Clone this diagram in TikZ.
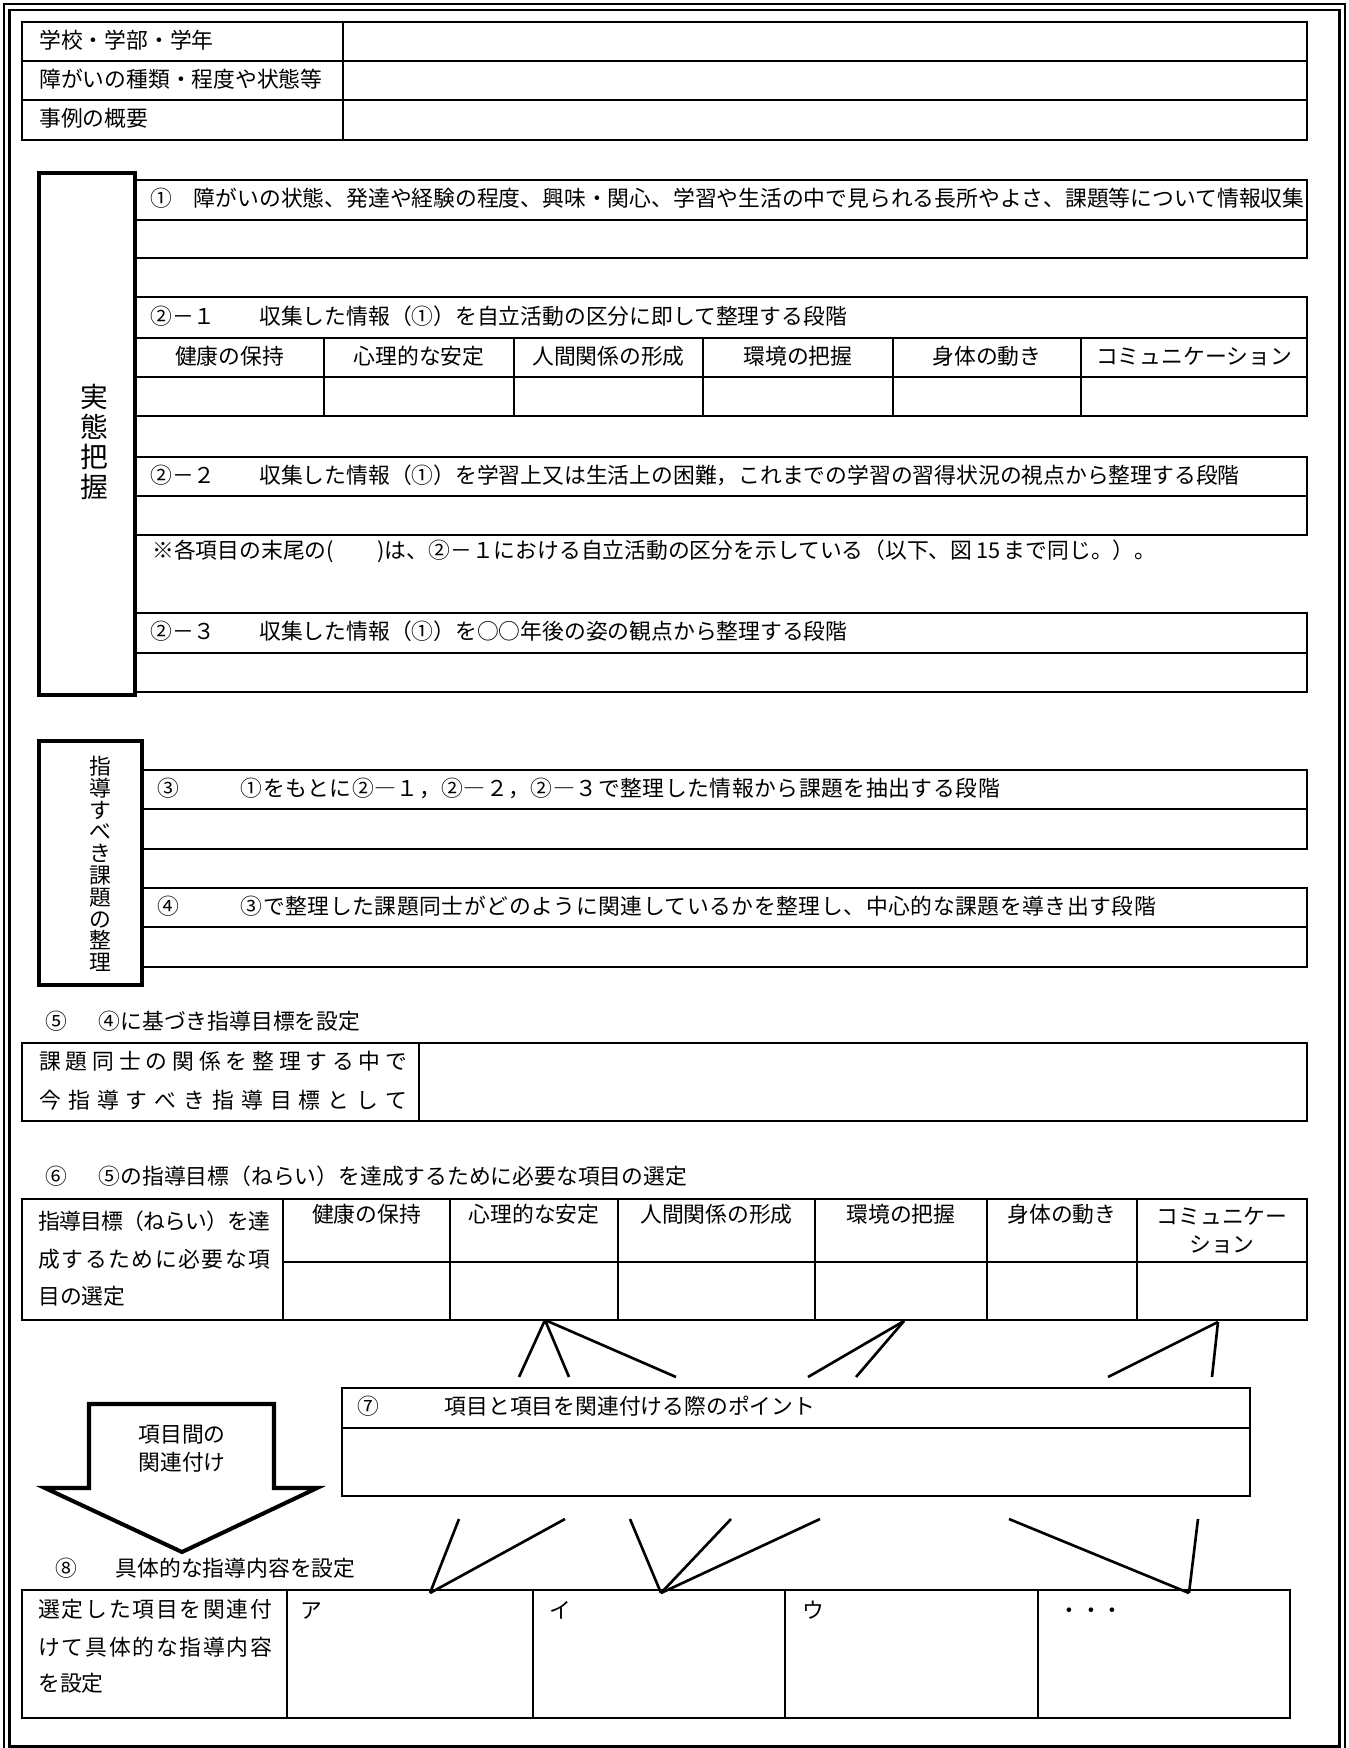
\documentclass[tikz,border=0pt]{standalone}
\usepackage{fontspec}
\setmainfont{Noto Sans CJK JP}
\usetikzlibrary{positioning}

\newdimen\px
\px=0.02cm

\makeatletter
\newcommand\spreadline[2]{\makebox[#1\px][s]{\@tfor\sp@ch:=#2\do{\sp@ch\hskip 0pt plus 1fil minus 1fil}\unskip}}
\makeatother

\begin{document}
\begin{tikzpicture}[
    x=0.02cm, y=-0.02cm,
    font=\fontsize{12.4pt}{15pt}\selectfont,
    rule/.style={line width=1pt},
    stagebox/.style={line width=2.3pt},
    link/.style={line width=1.5pt},
    entry/.style={inner sep=0pt, anchor=west, text height=0.88em, text depth=0.12em},
    wideentry/.style={entry, font=\fontsize{12.4pt}{15pt}\selectfont\addfontfeature{LetterSpace=2.6}},
    colhead/.style={inner sep=0pt, anchor=center, text height=0.88em, text depth=0.12em},
    vtext/.style={inner sep=0pt, align=center}
  ]
  \useasboundingbox (0,0) rectangle (1349,1748);

  % Frame
  \draw[line width=0.7pt] (4,4) rectangle (1345,1753);
  \draw[line width=1.4pt] (9.5,10) rectangle (1339.5,1746.5);

  % Case table
  \draw[rule] (22,22) rectangle (1307,140);
  \draw[rule] (22,61) -- (1307,61) (22,100) -- (1307,100) (343,22) -- (343,140);
  \node[entry] (school) at (39,41.5) {学校・学部・学年};
  \node[entry] (disability) at (39,80.5) {障がいの種類・程度や状態等};
  \node[entry] (summary) at (39,120) {事例の概要};

  % Stage 1
  \draw[stagebox] (39,173) rectangle (135,695);
  \node[vtext, font=\fontsize{15.8pt}{17.2pt}\selectfont] (grasp) at (94,442) {実\\態\\把\\握};

  \draw[rule] (135,180) rectangle (1307,258) (135,220) -- (1307,220);
  \node[entry] (collect) at (150,200) {①　障がいの状態、発達や経験の程度、興味・関心、学習や生活の中で見られる長所やよさ、課題等について情報収集};

  \draw[rule] (135,297) rectangle (1307,416) (135,338) -- (1307,338) (135,377) -- (1307,377);
  \foreach \x in {324,514,703,893,1081}
    \draw[rule] (\x,338) -- (\x,416);
  \node[entry] (sortA) at (150,317.5) {②－１　　収集した情報（①）を自立活動の区分に即して整理する段階};
  \node[colhead] (healthA) at (229.5,357.5) {健康の保持};
  \node[colhead] (mindA) at (419,357.5) {心理的な安定};
  \node[colhead] (relationA) at (608.5,357.5) {人間関係の形成};
  \node[colhead] (envA) at (798,357.5) {環境の把握};
  \node[colhead] (bodyA) at (987,357.5) {身体の動き};
  \node[colhead] (commA) at (1194,357.5) {コミュニケーション};

  \draw[rule] (135,457) rectangle (1307,535) (135,496) -- (1307,496);
  \node[entry] (sortB) at (150,476.5) {②－２　　収集した情報（①）を学習上又は生活上の困難，これまでの学習の習得状況の視点から整理する段階};
  \node[entry] (note) at (152,552) {※各項目の末尾の(　　)は、②－１における自立活動の区分を示している（以下、図\,15\,まで同じ。）。};

  \draw[rule] (135,613) rectangle (1307,692) (135,653) -- (1307,653);
  \node[entry] (sortC) at (150,633) {②－３　　収集した情報（①）を○○年後の姿の観点から整理する段階};

  % Stage 2
  \draw[stagebox] (39,741) rectangle (142,985);
  \node[vtext, font=\fontsize{12.4pt}{12.4pt}\selectfont] (issues) at (100,864) {指\\導\\す\\べ\\き\\課\\題\\の\\整\\理};

  \draw[rule] (142,770) rectangle (1307,849) (142,809) -- (1307,809);
  \node[entry] (n3) at (157,789.5) {③};
  \node[wideentry, right=1.22cm of n3] (extract) {①をもとに②―１，②―２，②―３で整理した情報から課題を抽出する段階};

  \draw[rule] (142,888) rectangle (1307,967) (142,927) -- (1307,927);
  \node[entry] (n4) at (157,907.5) {④};
  \node[wideentry, right=1.22cm of n4] (relate) {③で整理した課題同士がどのように関連しているかを整理し、中心的な課題を導き出す段階};

  % Goal
  \node[entry] (n5) at (45,1023) {⑤};
  \node[entry, right=0.62cm of n5] (goalhead) {④に基づき指導目標を設定};
  \draw[rule] (22,1043) rectangle (1307,1121) (419,1043) -- (419,1121);
  \node[entry] (goalA) at (39,1063) {\spreadline{368}{課題同士の関係を整理する中で}};
  \node[entry] (goalB) at (39,1102) {\spreadline{368}{今指導すべき指導目標として}};

  % Item selection
  \node[entry] (n6) at (45,1178) {⑥};
  \node[entry, right=0.62cm of n6] (selecthead) {⑤の指導目標（ねらい）を達成するために必要な項目の選定};
  \draw[rule] (22,1199) rectangle (1307,1320) (283,1262) -- (1307,1262);
  \foreach \x in {283,450,618,815,987,1137}
    \draw[rule] (\x,1199) -- (\x,1320);
  \node[entry] (aimA) at (38,1223) {\spreadline{232}{指導目標（ねらい）を達}};
  \node[entry] (aimB) at (38,1261) {\spreadline{232}{成するために必要な項}};
  \node[entry] (aimC) at (38,1298) {目の選定};
  \node[colhead] (healthB) at (366.5,1216) {健康の保持};
  \node[colhead] (mindB) at (534,1216) {心理的な安定};
  \node[colhead] (relationB) at (716.5,1216) {人間関係の形成};
  \node[colhead] (envB) at (901,1216) {環境の把握};
  \node[colhead] (bodyB) at (1062,1216) {身体の動き};
  \node[vtext, font=\fontsize{12.4pt}{16.4pt}\selectfont] (commB) at (1222,1230.5) {コミュニケー\\ション};

  % Point box
  \draw[rule] (342,1388) rectangle (1250,1496) (342,1428) -- (1250,1428);
  \node[entry] (n7) at (357,1408) {⑦};
  \node[entry, right=1.3cm of n7] (pointhead) {項目と項目を関連付ける際のポイント};

  % Big arrow
  \draw[line width=2.3pt, line join=miter] (89,1404) -- (274,1404) -- (274,1488) -- (317,1488)
    -- (182,1552) -- (45,1488) -- (89,1488) -- cycle;
  \node[colhead] (arrowA) at (182,1436) {項目間の};
  \node[colhead, below=0.2cm of arrowA] (arrowB) {関連付け};

  % Content table
  \node[entry] (n8) at (55,1570) {⑧};
  \node[entry, right=0.76cm of n8] (contenthead) {具体的な指導内容を設定};
  \draw[rule] (22,1590) rectangle (1290,1718);
  \foreach \x in {287,533,785,1038}
    \draw[rule] (\x,1590) -- (\x,1718);
  \node[entry] (contentA) at (38,1611) {\spreadline{234}{選定した項目を関連付}};
  \node[entry] (contentB) at (38,1649) {\spreadline{234}{けて具体的な指導内容}};
  \node[entry] (contentC) at (38,1685) {を設定};
  \node[entry] (cellA) at (300,1612) {ア};
  \node[entry] (cellB) at (549,1612) {イ};
  \node[entry] (cellC) at (802,1612) {ウ};
  \node[entry] (cellD) at (1058,1612) {・・・};

  % Links from the items to the point box
  \coordinate (mindTop) at (545,1320);
  \coordinate (envTop) at (904,1321);
  \coordinate (commTop) at (1218,1322);
  \coordinate (upA) at (519,1377);
  \coordinate (upB) at (569,1377);
  \coordinate (upC) at (676,1377);
  \coordinate (upD) at (808,1377);
  \coordinate (upE) at (856,1377);
  \coordinate (upF) at (1108,1377);
  \coordinate (upG) at (1212,1377);
  \draw[link] (mindTop) -- (upA);
  \draw[link] (mindTop) -- (upB);
  \draw[link] (mindTop) -- (upC);
  \draw[link] (envTop) -- (upD);
  \draw[link] (envTop) -- (upE);
  \draw[link] (commTop) -- (upF);
  \draw[link] (commTop) -- (upG);

  % Links from the point box to the contents
  \coordinate (cellTopA) at (430,1593);
  \coordinate (cellTopB) at (661,1593);
  \coordinate (cellTopD) at (1189,1593);
  \coordinate (downA) at (459,1519);
  \coordinate (downB) at (565,1519);
  \coordinate (downC) at (630,1519);
  \coordinate (downD) at (731,1519);
  \coordinate (downE) at (820,1519);
  \coordinate (downF) at (1009,1519);
  \coordinate (downG) at (1198,1519);
  \draw[link] (downA) -- (cellTopA);
  \draw[link] (downB) -- (cellTopA);
  \draw[link] (downC) -- (cellTopB);
  \draw[link] (downD) -- (cellTopB);
  \draw[link] (downE) -- (cellTopB);
  \draw[link] (downF) -- (cellTopD);
  \draw[link] (downG) -- (cellTopD);

\end{tikzpicture}
\end{document}
